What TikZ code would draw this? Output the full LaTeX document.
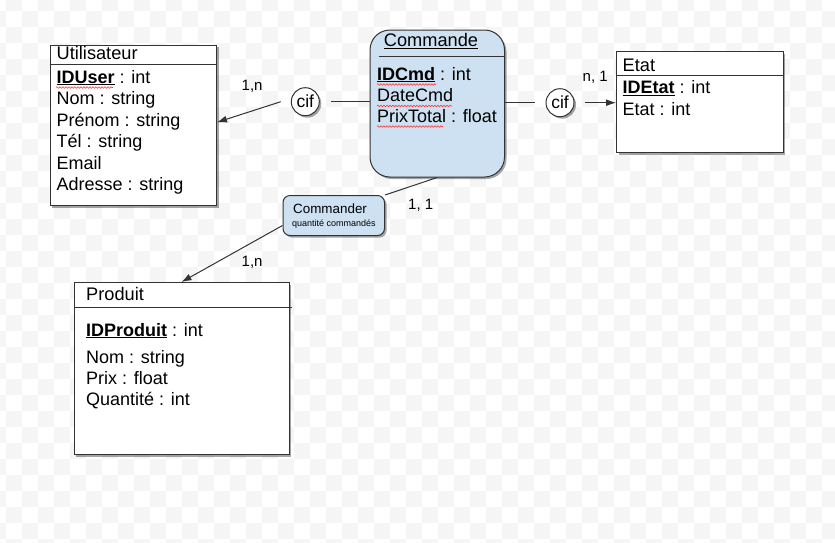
\documentclass[tikz,border=0pt]{standalone}
\usepackage{fontspec}
\setmainfont{Liberation Sans}
\usetikzlibrary{arrows,arrows.meta,shapes,shadows,decorations.pathmorphing}

\definecolor{bleuclair}{RGB}{206,225,242}
\definecolor{damier}{RGB}{245,245,245}
\definecolor{trait}{RGB}{51,51,51}

\tikzset{
  ombre/.style={drop shadow={shadow xshift=2pt,shadow yshift=-2pt,opacity=.35,fill=black}},
  entite/.style={draw=trait,line width=1pt,fill=white,ombre,anchor=north west,inner sep=0pt},
  assoc/.style={draw=trait,line width=1pt,fill=bleuclair,ombre,anchor=north west,inner sep=0pt},
  cif/.style={circle,draw=trait,line width=1pt,fill=white,ombre,minimum size=28pt,inner sep=0pt,font=\fontsize{17.5}{20}\selectfont},
  titre/.style={anchor=base west,inner sep=0pt,font=\fontsize{18.2}{21}\selectfont},
  attr/.style={anchor=base west,inner sep=0pt,font=\fontsize{18}{21}\selectfont},
  card/.style={anchor=base west,inner sep=0pt,font=\fontsize{15}{18}\selectfont},
  lien/.style={draw=trait,line width=1pt},
  fleche/.style={-{Latex[length=10pt,width=7pt]}},
  faute/.style={red!80,line width=.6pt,decorate,decoration={snake,amplitude=.8pt,segment length=3pt}}
}

\begin{document}
\begin{tikzpicture}[x=1pt,y=-1pt]
\useasboundingbox (0,0) rectangle (835,542);
\fill[white] (0,0) rectangle (835,542);

% damier du fond
\begin{scope}
\clip (0,0) rectangle (835,542);
\foreach \i in {0,2,...,52}
  \foreach \j in {1,3,...,35}{
    \fill[damier] (-10+16*\i,-5+16*\j) rectangle +(16,16);
    \fill[damier] (6+16*\i,-21+16*\j) rectangle +(16,16);
  }
\end{scope}

% Utilisateur
\node[entite,minimum width=166.5pt,minimum height=160.5pt] (util) at (49.5,44.5) {};
\draw[trait,line width=1pt] (49.5,64.5) -- (216,64.5);
\node[titre] (utitre) at (56.5,59.5) {Utilisateur};
\node[attr] (uid) at (56.5,83) {\underline{\textbf{IDUser}} : int};
\node[attr] (unom) at (56.5,104.5) {Nom : string};
\node[attr] (uprenom) at (56.5,126) {Prénom : string};
\node[attr] (utel) at (56.5,147.5) {Tél : string};
\node[attr] (umail) at (56.5,169) {Email};
\node[attr] (uadr) at (56.5,190.5) {Adresse : string};
\draw[faute] (56,87.5) -- (113,87.5);

% Commande
\node[assoc,rounded corners=20pt,minimum width=134.5pt,minimum height=147pt] (cmd) at (369.5,29.5) {};
\node[titre,anchor=base] (ctitre) at (431,46.5) {\underline{Commande}};
\draw[trait,line width=1pt] (378.5,56.5) -- (505,56.5);
\node[attr] (cid) at (377,80) {\underline{\textbf{IDCmd}} : int};
\node[attr] (cdate) at (377,101.5) {DateCmd};
\node[attr] (cprix) at (377,122) {PrixTotal : float};
\draw[faute] (377,84.5) -- (436,84.5);
\draw[faute] (377,106) -- (452,106);
\draw[faute] (377,126.5) -- (443,126.5);

% Etat
\node[entite,minimum width=166.5pt,minimum height=101pt] (etat) at (616,51) {};
\draw[trait,line width=1pt] (616,75.5) -- (782.5,75.5);
\node[titre] (etitre) at (622.5,71) {Etat};
\node[attr] (eid) at (622.5,93.5) {\underline{\textbf{IDEtat}} : int};
\node[attr] (eetat) at (622.5,115) {Etat : int};

% Produit
\node[entite,minimum width=215pt,minimum height=172pt] (prod) at (73.5,282) {};
\draw[trait,line width=1pt] (74,307.5) -- (292,307.5);
\node[titre] (ptitre) at (86,300.5) {Produit};
\node[attr] (pid) at (86,336) {\underline{\textbf{IDProduit}} : int};
\node[attr] (pnom) at (86,363) {Nom : string};
\node[attr] (pprix) at (86,384.5) {Prix : float};
\node[attr] (pqte) at (86,405.5) {Quantité : int};

% Commander
\node[assoc,rounded corners=7pt,minimum width=101.5pt,minimum height=40pt] (commander) at (282.5,195) {};
\node[anchor=base west,inner sep=0pt,font=\fontsize{13.4}{15}\selectfont] (cmdr) at (293,213.5) {Commander};
\node[anchor=base west,inner sep=0pt,font=\fontsize{9}{11}\selectfont] (qte) at (292,226) {quantité commandés};

% cif
\node[cif] (cif1) at (305.3,101.7) {cif};
\node[cif] (cif2) at (560,102.7) {cif};

% liens
\draw[lien,fleche] ([xshift=-10pt]cif1.west) -- ([yshift=3pt]util.east);
\draw[lien,shorten >=11pt] (cmd.west |- cif1) -- (cif1);
\draw[lien,shorten >=11pt] (cmd.east |- cif2) -- (cif2);
\draw[lien,fleche,shorten <=10pt] (cif2) -- (etat.west |- cif2);
\draw[lien] (cmd.south) -- (commander.north east);
\draw[lien,fleche] ([yshift=-10pt]commander.west) -- (prod.north);

% cardinalites
\node[card] (c1) at (241.5,90) {1,n};
\node[card] (c2) at (582.5,81) {n, 1};
\node[card] (c3) at (408,209.5) {1, 1};
\node[card] (c4) at (241.5,266) {1,n};

\end{tikzpicture}
\end{document}
